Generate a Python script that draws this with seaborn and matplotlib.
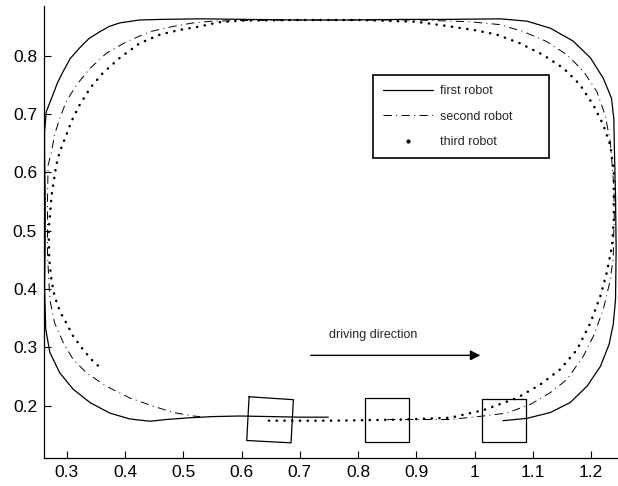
import matplotlib
matplotlib.use("Agg")
import matplotlib.pyplot as plt
from matplotlib.lines import Line2D
import seaborn as sns

# ── trajectories ──────────────────────────────────────────────────────────────
first_x = [1.049, 1.090, 1.130, 1.164, 1.193, 1.216, 1.231, 1.238, 1.242, 1.243,
           1.242, 1.240, 1.239, 1.235, 1.221, 1.199, 1.169, 1.130, 1.090, 1.044,
           0.950, 0.872, 0.780, 0.700, 0.610, 0.529, 0.460, 0.425, 0.391, 0.373,
           0.357, 0.338, 0.322, 0.306, 0.294, 0.284, 0.276, 0.265, 0.262, 0.262,
           0.263, 0.263, 0.262, 0.264, 0.271, 0.288, 0.311, 0.340, 0.374, 0.408,
           0.443, 0.471, 0.511, 0.551, 0.597, 0.650, 0.700, 0.749]
first_y = [0.174, 0.178, 0.188, 0.205, 0.233, 0.267, 0.305, 0.339, 0.382, 0.469,
           0.555, 0.641, 0.692, 0.727, 0.761, 0.796, 0.825, 0.847, 0.859, 0.863,
           0.862, 0.862, 0.861, 0.861, 0.862, 0.863, 0.862, 0.861, 0.856, 0.850,
           0.841, 0.829, 0.813, 0.795, 0.773, 0.753, 0.732, 0.704, 0.670, 0.629,
           0.560, 0.480, 0.400, 0.331, 0.291, 0.256, 0.228, 0.205, 0.187, 0.177,
           0.173, 0.176, 0.179, 0.181, 0.182, 0.181, 0.180, 0.180]

second_x = [0.850, 0.900, 0.958, 1.015, 1.055, 1.096, 1.130, 1.159, 1.187, 1.204,
            1.221, 1.232, 1.238, 1.239, 1.240, 1.239, 1.233, 1.224, 1.210, 1.187,
            1.159, 1.124, 1.084, 1.044, 0.992, 0.900, 0.800, 0.700, 0.600, 0.550,
            0.517, 0.483, 0.443, 0.403, 0.368, 0.340, 0.317, 0.299, 0.288, 0.279,
            0.274, 0.268, 0.267, 0.267, 0.271, 0.279, 0.294, 0.311, 0.334, 0.368,
            0.408, 0.448, 0.483, 0.517, 0.529]
second_y = [0.176, 0.176, 0.176, 0.182, 0.187, 0.202, 0.222, 0.245, 0.285, 0.319,
            0.365, 0.411, 0.451, 0.497, 0.532, 0.577, 0.652, 0.698, 0.738, 0.773,
            0.801, 0.824, 0.841, 0.853, 0.858, 0.861, 0.861, 0.861, 0.860, 0.859,
            0.856, 0.850, 0.841, 0.824, 0.804, 0.778, 0.750, 0.721, 0.692, 0.664,
            0.635, 0.612, 0.550, 0.460, 0.382, 0.342, 0.308, 0.279, 0.256, 0.233,
            0.213, 0.199, 0.188, 0.182, 0.181]

third_x = [0.647, 0.700, 0.760, 0.820, 0.880, 0.930, 0.958, 1.015, 1.073, 1.113,
           1.147, 1.176, 1.199, 1.216, 1.227, 1.236, 1.239, 1.239, 1.233, 1.221,
           1.204, 1.181, 1.153, 1.118, 1.078, 1.038, 0.998, 0.958, 0.900, 0.800,
           0.700, 0.600, 0.560, 0.529, 0.494, 0.460, 0.425, 0.391, 0.362, 0.340,
           0.322, 0.308, 0.297, 0.288, 0.282, 0.274, 0.269, 0.270, 0.274, 0.279,
           0.288, 0.299, 0.311, 0.328, 0.345, 0.362]
third_y = [0.174, 0.174, 0.174, 0.175, 0.176, 0.178, 0.179, 0.192, 0.213, 0.236,
           0.262, 0.296, 0.342, 0.388, 0.428, 0.474, 0.520, 0.600, 0.646, 0.681,
           0.715, 0.750, 0.778, 0.801, 0.821, 0.836, 0.844, 0.850, 0.858, 0.861,
           0.861, 0.860, 0.857, 0.850, 0.844, 0.836, 0.821, 0.796, 0.770, 0.744,
           0.715, 0.687, 0.658, 0.635, 0.612, 0.560, 0.500, 0.450, 0.414, 0.388,
           0.362, 0.342, 0.319, 0.296, 0.276, 0.261]

# robot outlines (closed polygons)
box1_x = [0.613, 0.689, 0.685, 0.609, 0.613]
box1_y = [0.215, 0.210, 0.136, 0.140, 0.215]
box2_x = [0.812, 0.887, 0.887, 0.812, 0.812]
box2_y = [0.138, 0.138, 0.213, 0.213, 0.138]
box3_x = [1.013, 1.088, 1.088, 1.013, 1.013]
box3_y = [0.137, 0.137, 0.212, 0.212, 0.137]

arrow_x = [0.719, 1.010]
arrow_y = [0.286, 0.286]
arrow_text = "driving direction"
text_pos = (0.750, 0.321)

labels = ["first robot", "second robot", "third robot"]
x_ticks = [0.3, 0.4, 0.5, 0.6, 0.7, 0.8, 0.9, 1.0, 1.1, 1.2]
x_ticklabels = ["0.3", "0.4", "0.5", "0.6", "0.7", "0.8", "0.9", "1", "1.1", "1.2"]
y_ticks = [0.2, 0.3, 0.4, 0.5, 0.6, 0.7, 0.8]
y_ticklabels = ["0.2", "0.3", "0.4", "0.5", "0.6", "0.7", "0.8"]

sns.set_style("ticks")
plt.rcParams["font.family"] = ["Liberation Sans", "DejaVu Sans"]
plt.rcParams["xtick.direction"] = "in"
plt.rcParams["ytick.direction"] = "in"

DASHDOT = (0, (8.5, 4.5, 1, 4.5))
DOTTED = (0, (0.1, 3.0))

fig = plt.figure(figsize=(6.18, 4.86), dpi=100)
ax = fig.add_axes([44 / 618, 28 / 486, 573 / 618, 452 / 486])

sns.lineplot(x=first_x, y=first_y, sort=False, estimator=None, color="black",
             lw=0.9, ax=ax, legend=False)
sns.lineplot(x=second_x, y=second_y, sort=False, estimator=None, color="black",
             lw=0.7, linestyle=DASHDOT, ax=ax, legend=False)
sns.lineplot(x=third_x, y=third_y, sort=False, estimator=None, color="black",
             lw=1.8, linestyle=DOTTED, dash_capstyle="round", ax=ax, legend=False)

for bx, by in [(box1_x, box1_y), (box2_x, box2_y), (box3_x, box3_y)]:
    sns.lineplot(x=bx, y=by, sort=False, estimator=None, color="black",
                 lw=0.9, ax=ax, legend=False)

ax.annotate("", xy=(arrow_x[1], arrow_y[1]), xytext=(arrow_x[0], arrow_y[0]),
            arrowprops=dict(arrowstyle="-|>", color="black", lw=1.0,
                            mutation_scale=15, shrinkA=0, shrinkB=0))
ax.text(text_pos[0], text_pos[1], arrow_text, fontsize=9, ha="left", va="center")

handles = [
    Line2D([], [], color="black", lw=0.9),
    Line2D([], [], color="black", lw=0.7, linestyle=DASHDOT),
    Line2D([], [], color="black", ls="none", marker=".", markersize=4),
]
leg = ax.legend(handles, labels, loc="upper left",
                bbox_to_anchor=(0.574, 0.668, 0.307, 0.179), mode="expand",
                fontsize=9, frameon=True, fancybox=False, framealpha=1,
                edgecolor="black", handlelength=4.0, handletextpad=0.6,
                borderpad=0.8, labelspacing=1.08, borderaxespad=0)
leg.get_frame().set_linewidth(1.2)

ax.set_xlim(0.261, 1.2445)
ax.set_ylim(0.110, 0.885)
ax.set_xticks(x_ticks)
ax.set_xticklabels(x_ticklabels)
ax.set_yticks(y_ticks)
ax.set_yticklabels(y_ticklabels)
ax.tick_params(labelsize=12.5, length=5, width=0.8, pad=5, colors="black")
sns.despine(ax=ax)
for s in ["left", "bottom"]:
    ax.spines[s].set_linewidth(0.9)
    ax.spines[s].set_color("black")

fig.savefig("out.png", dpi=100)
